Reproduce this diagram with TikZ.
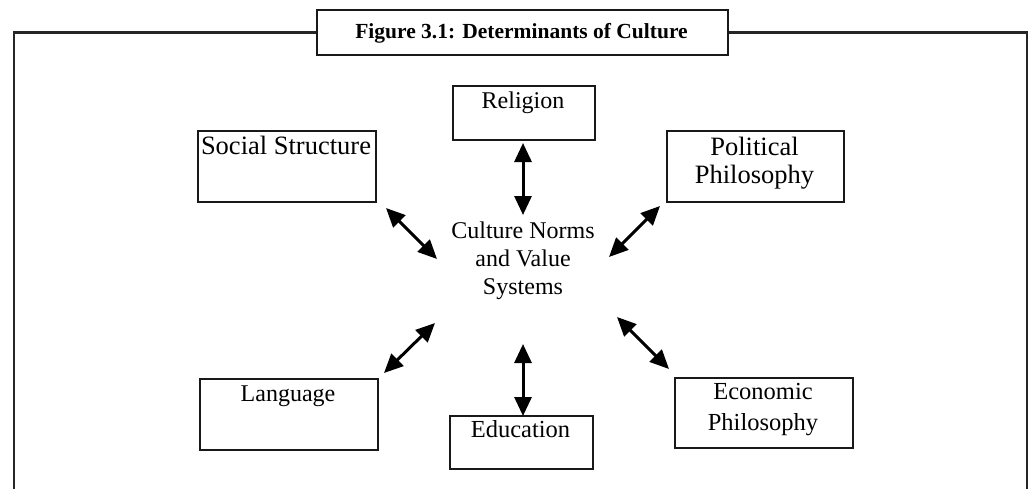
\documentclass[tikz,border=0pt]{standalone}
\usepackage{fontspec}
\setmainfont{Liberation Serif}
\usetikzlibrary{arrows.meta}
\tikzset{
  frameline/.style={line width=2.4pt, draw=black!85},
  boxstyle/.style={draw=black!90, line width=2pt, rectangle, inner sep=0pt},
  lbl/.style={inner sep=0pt, anchor=base, align=center},
  dblarrow/.style={line width=3pt, draw=black,
    {Triangle[length=19pt,width=17pt]}-{Triangle[length=19pt,width=17pt]}},
}
\begin{document}
\begin{tikzpicture}[x=1pt,y=-1pt]
\useasboundingbox (0,0) rectangle (1032,488);
% title box
\node[boxstyle, minimum width=411pt, minimum height=45pt, anchor=north west] (title) at (316,9) {};
\node[lbl, font=\fontsize{21.5}{24}\selectfont\bfseries] (titletext) at (521.5,38) {Figure 3.1: Determinants of Culture};
% frame
\coordinate (fbl) at (14,490);
\coordinate (fbr) at (1027,490);
\draw[frameline] (fbl) |- (title.west);
\draw[frameline] (title.east) -| (fbr);
% boxes
\node[boxstyle, minimum width=178pt, minimum height=71pt, anchor=north west] (social) at (197,130) {};
\node[boxstyle, minimum width=142pt, minimum height=54pt, anchor=north west] (religion) at (452,85) {};
\node[boxstyle, minimum width=177pt, minimum height=71pt, anchor=north west] (political) at (666,130) {};
\node[boxstyle, minimum width=178pt, minimum height=71pt, anchor=north west] (language) at (199,378) {};
\node[boxstyle, minimum width=143pt, minimum height=53pt, anchor=north west] (education) at (449,415) {};
\node[boxstyle, minimum width=178pt, minimum height=70pt, anchor=north west] (economic) at (674,377) {};
% labels (multi-line labels are placed by the baseline of their last line)
\node[lbl, font=\fontsize{26.5}{28}\selectfont] (socialtext) at (286,154) {Social Structure};
\node[lbl, font=\fontsize{24}{28}\selectfont] (religiontext) at (523,108) {Religion};
\node[lbl, font=\fontsize{26.5}{28}\selectfont] (politicaltext) at (754.5,183) {Political\\Philosophy};
\node[lbl, font=\fontsize{24}{28}\selectfont] (languagetext) at (288,401) {Language};
\node[lbl, font=\fontsize{24.5}{28}\selectfont] (educationtext) at (520.5,437) {Education};
\node[lbl, font=\fontsize{24.5}{31}\selectfont] (economictext) at (763,430) {Economic\\Philosophy};
\node[lbl, font=\fontsize{24}{28}\selectfont] (center) at (523,294) {Culture Norms\\and Value\\Systems};
% arrow end points
\coordinate (r1) at (523,143); \coordinate (r2) at (523,215);
\coordinate (e1) at (523,344); \coordinate (e2) at (523,416);
\coordinate (s1) at (386,208); \coordinate (s2) at (437,259);
\coordinate (l1) at (384,373); \coordinate (l2) at (435,323);
\coordinate (p1) at (609,257); \coordinate (p2) at (660,206);
\coordinate (c1) at (617,317); \coordinate (c2) at (669,369);
\draw[dblarrow] (r1) -- (r2);
\draw[dblarrow] (e1) -- (e2);
\draw[dblarrow] (s1) -- (s2);
\draw[dblarrow] (l1) -- (l2);
\draw[dblarrow] (p1) -- (p2);
\draw[dblarrow] (c1) -- (c2);
\end{tikzpicture}
\end{document}
